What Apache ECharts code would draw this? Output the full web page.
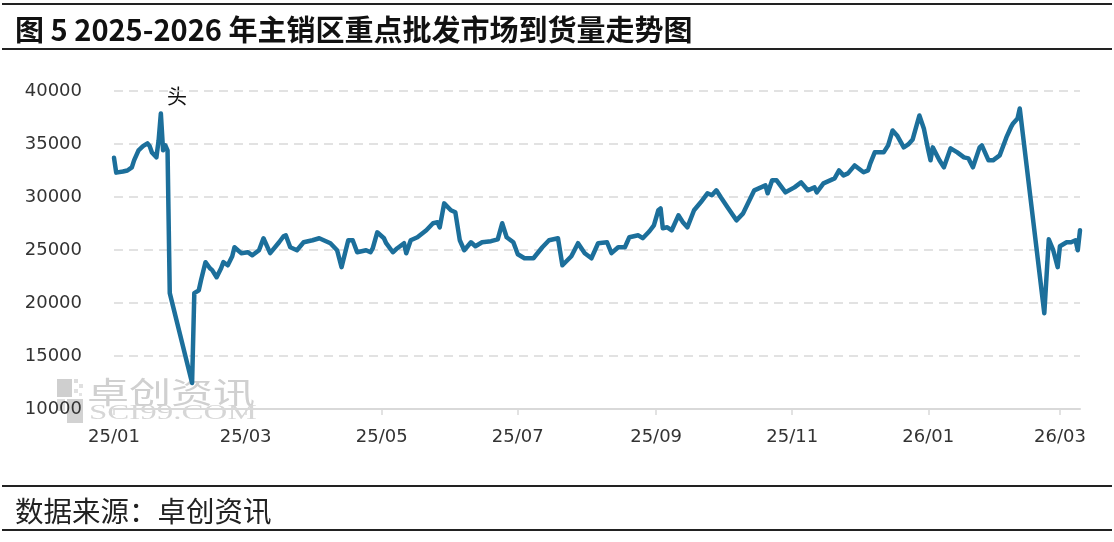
<!DOCTYPE html>
<html>
<head>
<meta charset="utf-8">
<script src="https://cdn.jsdelivr.net/npm/echarts@6/dist/echarts.min.js"></script>
<style>
html,body{margin:0;padding:0;background:#fff;}
#c{width:1114px;height:542px;}
</style>
</head>
<body>
<div id="c"></div>
<script>
// ---- data ----
const titleText = '图 5 2025-2026 年主销区重点批发市场到货量走势图';
const sourceText = '数据来源：卓创资讯';
const yTicks = [10000, 15000, 20000, 25000, 30000, 35000, 40000];
const startDate = '2025-01-01';
const endDate = '2026-03-10';
const labelMonths = ['01', '03', '05', '07', '09', '11'];

const pointDates = [
'2025-01-01','2025-01-02','2025-01-05','2025-01-07','2025-01-09','2025-01-10','2025-01-12','2025-01-14','2025-01-16','2025-01-17',
'2025-01-18','2025-01-20','2025-01-21','2025-01-22','2025-01-23','2025-01-24','2025-01-25','2025-01-26','2025-02-05','2025-02-06',
'2025-02-08','2025-02-09','2025-02-11','2025-02-13','2025-02-14','2025-02-16','2025-02-18','2025-02-19','2025-02-21','2025-02-23',
'2025-02-24','2025-02-27','2025-03-02','2025-03-04','2025-03-07','2025-03-09','2025-03-12','2025-03-16','2025-03-18','2025-03-19',
'2025-03-21','2025-03-24','2025-03-27','2025-03-31','2025-04-03','2025-04-06','2025-04-08','2025-04-11','2025-04-13','2025-04-16',
'2025-04-18','2025-04-20','2025-04-24','2025-04-26','2025-04-27','2025-04-29','2025-05-02','2025-05-03','2025-05-06','2025-05-08',
'2025-05-11','2025-05-12','2025-05-14','2025-05-17','2025-05-21','2025-05-24','2025-05-26','2025-05-27','2025-05-29','2025-06-01',
'2025-06-03','2025-06-05','2025-06-07','2025-06-10','2025-06-12','2025-06-15','2025-06-19','2025-06-22','2025-06-24','2025-06-26',
'2025-06-29','2025-07-01','2025-07-04','2025-07-08','2025-07-12','2025-07-15','2025-07-19','2025-07-21','2025-07-25','2025-07-28',
'2025-07-31','2025-08-03','2025-08-06','2025-08-10','2025-08-12','2025-08-15','2025-08-18','2025-08-20','2025-08-24','2025-08-26',
'2025-08-29','2025-08-31','2025-09-02','2025-09-03','2025-09-04','2025-09-06','2025-09-08','2025-09-11','2025-09-13','2025-09-15',
'2025-09-18','2025-09-21','2025-09-24','2025-09-26','2025-09-28','2025-09-30','2025-10-03','2025-10-07','2025-10-10','2025-10-15',
'2025-10-18','2025-10-20','2025-10-21','2025-10-23','2025-10-25','2025-10-29','2025-11-02','2025-11-05','2025-11-08','2025-11-11',
'2025-11-12','2025-11-15','2025-11-20','2025-11-22','2025-11-24','2025-11-26','2025-11-29','2025-12-03','2025-12-05','2025-12-06',
'2025-12-08','2025-12-12','2025-12-14','2025-12-16','2025-12-18','2025-12-21','2025-12-23','2025-12-25','2025-12-28','2025-12-30',
'2026-01-01','2026-01-02','2026-01-03','2026-01-06','2026-01-08','2026-01-11','2026-01-14','2026-01-17','2026-01-19','2026-01-21',
'2026-01-24','2026-01-25','2026-01-28','2026-01-30','2026-02-02','2026-02-05','2026-02-07','2026-02-08','2026-02-10','2026-02-11',
'2026-02-22','2026-02-24','2026-02-26','2026-02-28','2026-03-01','2026-03-04','2026-03-06','2026-03-08','2026-03-09','2026-03-10'
];
const arrivals = [
33700,32300,32400,32500,32800,33450,34400,34800,35060,34800,
34200,33740,35340,37880,34400,34870,34400,20930,12450,20930,
21200,22150,23850,23280,23100,22430,23280,23850,23560,24410,
25260,24700,24790,24500,24980,26110,24700,25730,26300,26390,
25260,24980,25730,25920,26110,25830,25640,24980,23380,25920,
25920,24790,24980,24790,25170,26670,26110,25640,24790,25170,
25640,24700,25920,26200,26860,27520,27620,27140,29400,28750,
28560,25920,24980,25730,25350,25730,25830,26010,27520,26200,
25730,24600,24220,24220,25260,25920,26110,23560,24410,25640,
24700,24220,25640,25730,24700,25260,25260,26200,26390,26110,
26770,27330,28750,28930,27050,27140,26860,28270,27620,27140,
28750,29500,30350,30160,30630,29970,29030,27800,28460,30630,
30910,31100,30350,31570,31570,30440,30910,31380,30630,30910,
30440,31290,31760,32510,32040,32230,32980,32330,32510,33170,
34210,34210,34870,36280,35810,34680,34960,35430,37690,36470,
34400,33460,34680,33460,32800,34590,34210,33740,33640,32800,
34680,34870,33460,33460,33930,35620,36560,36940,37410,38350,
19040,26010,24980,23380,25350,25730,25730,25920,24980,26860
];

// ---- build daily category axis ----
function fmt(t){ const d=new Date(t); return d.getUTCFullYear()+'-'+String(d.getUTCMonth()+1).padStart(2,'0')+'-'+String(d.getUTCDate()).padStart(2,'0'); }
const days = [];
for (let t = Date.parse(startDate+'T00:00:00Z'); t <= Date.parse(endDate+'T00:00:00Z'); t += 86400000) days.push(fmt(t));
const valueMap = {};
pointDates.forEach((d,i)=>{ valueMap[d] = arrivals[i]; });
const seriesData = days.map(d => (d in valueMap) ? valueMap[d] : '-');
const isLabelDay = (idx, val) => { const p = String(val).split('-'); return p[2] === '01' && labelMonths.indexOf(p[1]) >= 0; };

const chart = echarts.init(document.getElementById('c'), null, {renderer:'canvas'});
const axisFont = 'DejaVu Sans';
chart.setOption({
  backgroundColor: '#ffffff',
  animation: false,
  grid: { left: 114, right: 34, top: 91, bottom: 133, containLabel: false },
  xAxis: {
    type: 'category',
    data: days,
    boundaryGap: false,
    axisLine: { show: true, lineStyle: { color: '#d9d9d9', width: 2 } },
    axisTick: { show: true, interval: isLabelDay, length: 6, lineStyle: { color: '#d9d9d9', width: 1.5 } },
    axisLabel: {
      interval: isLabelDay,
      formatter: v => v.slice(2,4) + '/' + v.slice(5,7),
      color: '#333', fontSize: 18, fontFamily: axisFont, margin: 19
    },
    splitLine: { show: false }
  },
  yAxis: {
    type: 'value',
    min: yTicks[0], max: yTicks[yTicks.length-1], interval: 5000,
    axisLine: { show: false }, axisTick: { show: false },
    axisLabel: { color: '#333', fontSize: 18, fontFamily: axisFont, margin: 32, formatter: v => String(v) },
    splitLine: { show: true, lineStyle: { color: '#d9d9d9', type: [9,6], width: 1.5 } }
  },
  series: [{
    type: 'line',
    data: seriesData,
    connectNulls: true,
    showSymbol: false,
    symbol: 'none',
    lineStyle: { color: '#1c6f9b', width: 4.5, join: 'round', cap: 'round' },
    z: 3
  }],
  graphic: [
    // watermark
    { type: 'group', left: 57, top: 377, z: -1, silent: true, children: [
      { type: 'rect', shape: { x: 0, y: 2, width: 15, height: 18 }, style: { fill: '#cfcfcf' } },
      { type: 'rect', shape: { x: 17, y: 2, width: 4, height: 4 }, style: { fill: '#dcdcdc' } },
      { type: 'rect', shape: { x: 22, y: 7, width: 4, height: 4 }, style: { fill: '#e0e0e0' } },
      { type: 'rect', shape: { x: 17, y: 12, width: 4, height: 4 }, style: { fill: '#e0e0e0' } },
      { type: 'rect', shape: { x: 22, y: 16, width: 3, height: 3 }, style: { fill: '#e4e4e4' } },
      { type: 'rect', shape: { x: 0, y: 22, width: 8, height: 12 }, style: { fill: '#dedede' } },
      { type: 'rect', shape: { x: 10, y: 22, width: 16, height: 24 }, style: { fill: '#d2d2d2' } },
      { type: 'text', x: 30, y: 0, scaleX: 1.4, style: { text: '卓创资讯', font: '30px "Noto Sans CJK SC"', fill: '#d0d0d0' } },
      { type: 'text', x: 32, y: 27, scaleX: 1.65, style: { text: 'SCI99.COM', font: '20px "Liberation Serif"', fill: '#d6d6d6' } }
    ]},
    // title bar
    { type: 'rect', shape: { x: 2, y: 3, width: 1110, height: 2 }, style: { fill: '#222' } },
    { type: 'text', x: 15, y: 30, style: { text: titleText, font: 'bold 29px "Noto Sans CJK SC"', fill: '#111', verticalAlign: 'middle' } },
    { type: 'rect', shape: { x: 2, y: 48, width: 1110, height: 2 }, style: { fill: '#222' } },
    // annotation near peak
    { type: 'text', x: 177, y: 96, style: { text: '头', font: '20px "Noto Sans CJK SC"', fill: '#111', align: 'center', verticalAlign: 'middle' } },
    // source bar
    { type: 'rect', shape: { x: 2, y: 485, width: 1110, height: 2 }, style: { fill: '#222' } },
    { type: 'text', x: 15, y: 511, style: { text: sourceText, font: '28.5px "Noto Sans CJK SC"', fill: '#222', verticalAlign: 'middle' } },
    { type: 'rect', shape: { x: 2, y: 529, width: 1110, height: 2 }, style: { fill: '#222' } }
  ]
});
</script>
</body>
</html>
